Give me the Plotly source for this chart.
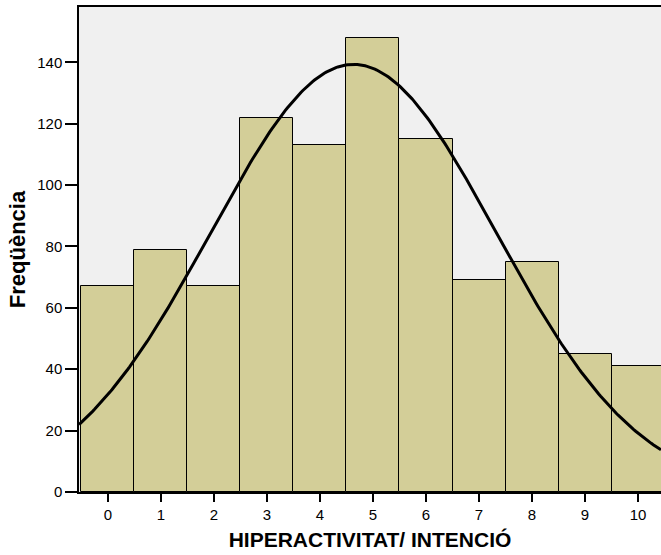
import numpy as np
import plotly.graph_objects as go

categories = [0, 1, 2, 3, 4, 5, 6, 7, 8, 9, 10]
frequencies = [67, 79, 67, 122, 113, 148, 115, 69, 75, 45, 41]
y_ticks = [0, 20, 40, 60, 80, 100, 120, 140]
x_title = "HIPERACTIVITAT/ INTENCIÓ"
y_title = "Freqüència"

cats = np.array(categories, dtype=float)
freq = np.array(frequencies, dtype=float)
n = freq.sum()
mean = (cats * freq).sum() / n
sd = np.sqrt(((cats - mean) ** 2 * freq).sum() / (n - 1))

xr = [-0.547, 10.434]
xs = np.linspace(xr[0], xr[1], 300)
ys = n * 1.0 / (sd * np.sqrt(2 * np.pi)) * np.exp(-0.5 * ((xs - mean) / sd) ** 2)

fig = go.Figure()
fig.add_trace(go.Bar(
    x=categories, y=frequencies, width=1,
    marker=dict(color="#d3ce98", line=dict(color="#000000", width=1)),
    hoverinfo="x+y",
))
fig.add_trace(go.Scatter(
    x=xs, y=ys, mode="lines",
    line=dict(color="#000000", width=3),
    hoverinfo="skip",
))

fig.update_layout(
    width=661, height=555,
    margin=dict(l=79, r=0, t=7, b=63),
    paper_bgcolor="#ffffff",
    plot_bgcolor="#f0f0f0",
    showlegend=False,
    bargap=0,
    font=dict(family="Liberation Sans, Arial, sans-serif", color="#000000", size=15),
)
fig.update_xaxes(
    range=xr, tickmode="array", tickvals=categories,
    ticktext=[str(c) for c in categories],
    ticks="outside", ticklen=8, tickwidth=2, tickcolor="#000000",
    showline=True, linecolor="#000000", linewidth=1.5, mirror=True,
    showgrid=False, zeroline=False,
    title=dict(text="<b>" + x_title + "</b>", font=dict(size=21), standoff=11),
)
fig.update_yaxes(
    range=[0, 158], tickmode="array", tickvals=y_ticks,
    ticks="outside", ticklen=12, tickwidth=1.5, tickcolor="#000000",
    showline=True, linecolor="#000000", linewidth=1.5,
    showgrid=False, zeroline=False,
    title=dict(text="<b>" + y_title + "</b>", font=dict(size=22), standoff=6),
)

fig.write_html("out.html")
